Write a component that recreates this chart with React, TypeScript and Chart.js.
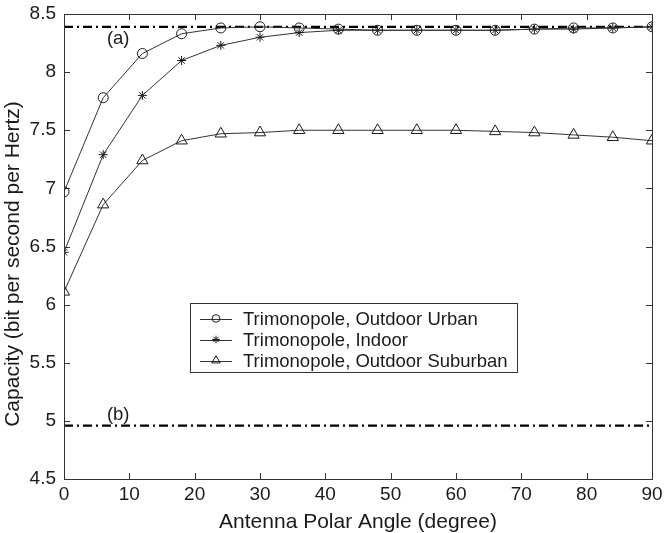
import React, { useEffect, useRef } from 'react';
import { Chart, registerables } from 'chart.js';

Chart.register(...registerables);

const angles = [0, 6, 12, 18, 24, 30, 36, 42, 48, 54, 60, 66, 72, 78, 84, 90];
const urban = [6.97, 7.78, 8.16, 8.33, 8.38, 8.39, 8.38, 8.37, 8.36, 8.36, 8.36, 8.36, 8.37, 8.38, 8.38, 8.39];
const indoor = [6.45, 7.29, 7.8, 8.1, 8.23, 8.3, 8.34, 8.36, 8.36, 8.36, 8.36, 8.36, 8.37, 8.37, 8.38, 8.39];
const suburban = [6.11, 6.86, 7.24, 7.41, 7.47, 7.48, 7.5, 7.5, 7.5, 7.5, 7.5, 7.49, 7.48, 7.46, 7.44, 7.41];
const refA = 8.39;
const refB = 4.96;
const refLabels = ['(a)', '(b)'];
const seriesNames = ['Trimonopole, Outdoor Urban', 'Trimonopole, Indoor', 'Trimonopole, Outdoor Suburban'];
const xTicks = [0, 10, 20, 30, 40, 50, 60, 70, 80, 90];
const xTickLabels = ['0', '10', '20', '30', '40', '50', '60', '70', '80', '90'];
const yTicks = [4.5, 5, 5.5, 6, 6.5, 7, 7.5, 8, 8.5];
const yTickLabels = ['4.5', '5', '5.5', '6', '6.5', '7', '7.5', '8', '8.5'];
const xTitle = 'Antenna Polar Angle (degree)';
const yTitle = 'Capacity (bit per second per Hertz)';

const FONT = '"Liberation Sans", Arial, Helvetica, sans-serif';
const INK = '#1a1a1a';
const LINE = '#333333';

function drawMarker(ctx: CanvasRenderingContext2D, style: string, x: number, y: number, r: number) {
  ctx.beginPath();
  if (style === 'circle') {
    ctx.arc(x, y, r, 0, Math.PI * 2);
  } else if (style === 'star') {
    for (let i = 0; i < 4; i++) {
      const a = (i * Math.PI) / 4;
      ctx.moveTo(x + Math.cos(a) * r, y + Math.sin(a) * r);
      ctx.lineTo(x - Math.cos(a) * r, y - Math.sin(a) * r);
    }
  } else {
    ctx.moveTo(x, y - r);
    ctx.lineTo(x + r * Math.sin((2 * Math.PI) / 3), y - r * Math.cos((2 * Math.PI) / 3));
    ctx.lineTo(x + r * Math.sin((4 * Math.PI) / 3), y - r * Math.cos((4 * Math.PI) / 3));
    ctx.closePath();
  }
  ctx.stroke();
}

const framePlugin = {
  id: 'frame',
  afterDraw(chart: any) {
    const { ctx, chartArea: a, scales } = chart;
    const xs = scales.x;
    const ys = scales.y;
    ctx.save();
    ctx.strokeStyle = LINE;
    ctx.lineWidth = 1;
    ctx.strokeRect(a.left + 0.5, a.top + 0.5, a.right - a.left, a.bottom - a.top);
    const tl = 6;
    ctx.beginPath();
    xTicks.forEach((v) => {
      const px = Math.round(xs.getPixelForValue(v)) + 0.5;
      ctx.moveTo(px, a.bottom);
      ctx.lineTo(px, a.bottom - tl);
      ctx.moveTo(px, a.top);
      ctx.lineTo(px, a.top + tl);
    });
    yTicks.forEach((v) => {
      const py = Math.round(ys.getPixelForValue(v)) + 0.5;
      ctx.moveTo(a.left, py);
      ctx.lineTo(a.left + tl, py);
      ctx.moveTo(a.right, py);
      ctx.lineTo(a.right - tl, py);
    });
    ctx.stroke();

    // y-axis title
    ctx.fillStyle = INK;
    ctx.font = `21px ${FONT}`;
    ctx.textAlign = 'center';
    ctx.textBaseline = 'middle';
    ctx.save();
    ctx.translate(13, 264);
    ctx.rotate(-Math.PI / 2);
    ctx.fillText(yTitle, 0, 0);
    ctx.restore();

    // reference labels
    ctx.font = `18.5px ${FONT}`;
    ctx.fillText(refLabels[0], xs.getPixelForValue(8.3), ys.getPixelForValue(refA) + 12);
    ctx.fillText(refLabels[1], xs.getPixelForValue(8.3), ys.getPixelForValue(refB) - 11);

    // legend
    const bx = 190.5, by = 303.5, bw = 327, bh = 69;
    ctx.fillStyle = '#ffffff';
    ctx.fillRect(bx, by, bw, bh);
    ctx.strokeStyle = LINE;
    ctx.strokeRect(bx, by, bw, bh);
    const styles = ['circle', 'star', 'triangle'];
    const radii = [3.8, 3.8, 4.8];
    const rows = [318.5, 339.5, 360.5];
    ctx.font = `18.5px ${FONT}`;
    ctx.textAlign = 'left';
    seriesNames.forEach((name, i) => {
      const y = rows[i];
      ctx.strokeStyle = LINE;
      ctx.lineWidth = 1;
      ctx.beginPath();
      ctx.moveTo(200, Math.round(y) + 0.5);
      ctx.lineTo(232, Math.round(y) + 0.5);
      ctx.stroke();
      ctx.strokeStyle = INK;
      drawMarker(ctx, styles[i], 216, y, radii[i]);
      ctx.fillStyle = INK;
      ctx.fillText(name, 243, y + 1);
    });
    ctx.restore();
  },
};

export default function App() {
  const ref = useRef<HTMLCanvasElement | null>(null);

  useEffect(() => {
    document.body.style.margin = '0';
    const canvas = ref.current;
    if (!canvas) return;
    const mk = (vals: number[]) => angles.map((x, i) => ({ x, y: vals[i] }));
    const chart = new Chart(canvas, {
      type: 'line',
      data: {
        datasets: [
          {
            label: seriesNames[0],
            data: mk(urban),
            borderColor: LINE,
            borderWidth: 1,
            pointStyle: 'circle',
            pointRadius: 5,
            pointBorderColor: INK,
            pointBackgroundColor: 'rgba(0,0,0,0)',
            pointBorderWidth: 1,
          },
          {
            label: seriesNames[1],
            data: mk(indoor),
            borderColor: LINE,
            borderWidth: 1,
            pointStyle: 'star',
            pointRadius: 4.5,
            pointBorderColor: INK,
            pointBackgroundColor: 'rgba(0,0,0,0)',
            pointBorderWidth: 1,
          },
          {
            label: seriesNames[2],
            data: mk(suburban),
            borderColor: LINE,
            borderWidth: 1,
            pointStyle: 'triangle',
            pointRadius: 6.5,
            pointBorderColor: INK,
            pointBackgroundColor: 'rgba(0,0,0,0)',
            pointBorderWidth: 1,
          },
          {
            label: 'a',
            data: [
              { x: angles[0], y: refA },
              { x: angles[angles.length - 1], y: refA },
            ],
            borderColor: '#000',
            borderWidth: 2.2,
            borderDash: [9, 4, 2, 4],
            pointRadius: 0,
          },
          {
            label: 'b',
            data: [
              { x: angles[0], y: refB },
              { x: angles[angles.length - 1], y: refB },
            ],
            borderColor: '#000',
            borderWidth: 2.2,
            borderDash: [9, 4, 2, 4],
            pointRadius: 0,
          },
        ],
      },
      options: {
        animation: false,
        responsive: false,
        maintainAspectRatio: false,
        layout: { padding: { left: 0, top: 14, right: 14, bottom: 0 } },
        plugins: { legend: { display: false }, tooltip: { enabled: false } },
        elements: { line: { tension: 0 } },
        scales: {
          x: {
            type: 'linear',
            min: 0,
            max: 90,
            afterBuildTicks: (s: any) => {
              s.ticks = xTicks.map((v) => ({ value: v }));
            },
            afterFit: (s: any) => {
              s.height = 54;
              s.paddingLeft = 0;
              s.paddingRight = 0;
            },
            ticks: {
              autoSkip: false,
              maxRotation: 0,
              padding: 4,
              color: INK,
              font: { family: FONT, size: 19 },
              callback: (v: any) => xTickLabels[xTicks.indexOf(Number(v))] ?? '',
            },
            grid: { display: true, drawOnChartArea: false, drawTicks: false },
            border: { display: false },
            title: {
              display: true,
              text: xTitle,
              color: INK,
              font: { family: FONT, size: 21 },
              padding: { top: 0, bottom: -2 },
            },
          },
          y: {
            type: 'linear',
            min: 4.5,
            max: 8.5,
            afterBuildTicks: (s: any) => {
              s.ticks = yTicks.map((v) => ({ value: v }));
            },
            afterFit: (s: any) => {
              s.width = 64;
              s.paddingTop = 0;
              s.paddingBottom = 0;
            },
            ticks: {
              autoSkip: false,
              padding: 8,
              color: INK,
              font: { family: FONT, size: 19 },
              callback: (v: any) => yTickLabels[yTicks.indexOf(Number(v))] ?? '',
            },
            grid: { display: true, drawOnChartArea: false, drawTicks: false },
            border: { display: false },
            title: { display: false },
          },
        },
      },
      plugins: [framePlugin],
    });
    return () => chart.destroy();
  }, []);

  return (
    <div style={{ width: 666, height: 533, background: '#fff' }}>
      <canvas ref={ref} width={666} height={533} style={{ display: 'block' }} />
    </div>
  );
}
